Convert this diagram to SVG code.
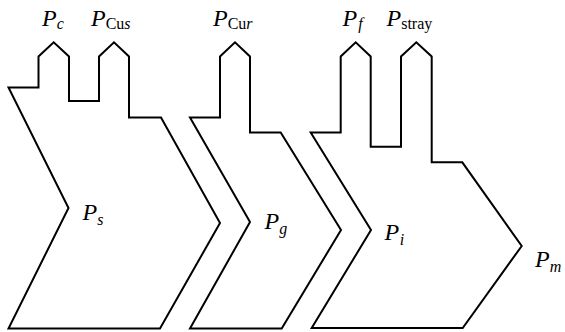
<svg xmlns="http://www.w3.org/2000/svg" width="565" height="332" viewBox="0 0 565 332">
<defs>
<style>
.s{fill:none;stroke:#000;stroke-width:2;stroke-linejoin:miter}
.t{font-family:'Liberation Serif','Times New Roman',serif;font-size:24px;fill:#000}
.i{font-style:italic}
.b{font-size:16px}
</style>
</defs>
<rect width="565" height="332" fill="#fff"/>
<g id="stator">
<path class="s" d="M8.5,87.5 H38.5 V56.5 L53.7,42.3 L69,56.5 V101 H99 V56.5 L114,42.3 L129,56.5 V117.5 H161 L220,223 L160,328.5 H8.5 L68.5,208 Z"/>
<text class="t" x="42" y="26"><tspan class="i">P</tspan><tspan class="i b" dy="3">c</tspan></text>
<text class="t" x="91" y="26"><tspan class="i">P</tspan><tspan class="b" dy="3">Cu</tspan><tspan class="i b">s</tspan></text>
<text class="t" x="82.5" y="220"><tspan class="i">P</tspan><tspan class="i b" dy="5">s</tspan></text>
</g>
<g id="gap">
<path class="s" d="M190,117.5 H220 V56.5 L235,42.3 L250,56.5 V132.5 H280.7 L341,230 L281.7,328.5 H190 L250,222 Z"/>
<text class="t" x="213" y="26"><tspan class="i">P</tspan><tspan class="b" dy="3">Cu</tspan><tspan class="i b">r</tspan></text>
<text class="t" x="264.5" y="229"><tspan class="i">P</tspan><tspan class="i b" dy="5">g</tspan></text>
</g>
<g id="rotor">
<path class="s" d="M310.7,132.5 H340.7 V56.5 L355.7,42.3 L370.7,56.5 V146.7 H401 V56.5 L416.3,42.3 L431.7,56.5 V162.3 H462.3 L521.7,246 L462.7,328 H311.7 L371,230 Z"/>
<text class="t" x="342.5" y="26"><tspan class="i">P</tspan><tspan class="i b" dx="1" dy="3">f</tspan></text>
<text class="t" x="386.5" y="26"><tspan class="i">P</tspan><tspan class="b" dy="3">stray</tspan></text>
<text class="t" x="384.5" y="240"><tspan class="i">P</tspan><tspan class="i b" dx="0.5" dy="5">i</tspan></text>
<text class="t" x="535" y="266.5"><tspan class="i">P</tspan><tspan class="i b" dy="5">m</tspan></text>
</g>
<g id="connectors"/>
</svg>
